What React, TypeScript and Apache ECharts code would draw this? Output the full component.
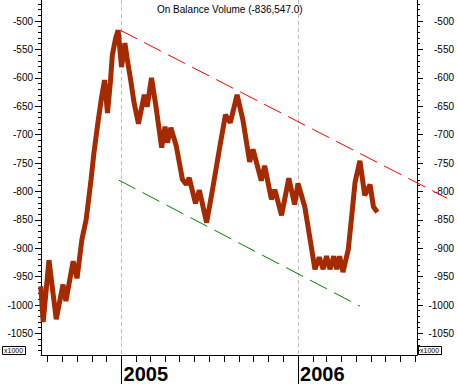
import React, { useEffect, useRef } from "react";
import * as echarts from "echarts";

const titleText = "On Balance Volume (-836,547.0)";

const dates = [
  "2004-07-18", "2004-07-23", "2004-08-04", "2004-08-19", "2004-09-02", "2004-09-08", "2004-09-23", "2004-10-01",
  "2004-10-11", "2004-10-20", "2004-10-30", "2004-11-05", "2004-11-14", "2004-11-21", "2004-11-27", "2004-12-03",
  "2004-12-09", "2004-12-13", "2004-12-20", "2004-12-25", "2005-01-01", "2005-01-08", "2005-01-13", "2005-01-20",
  "2005-01-27", "2005-02-05", "2005-02-17", "2005-02-23", "2005-03-04", "2005-03-13", "2005-03-25", "2005-04-01",
  "2005-04-06", "2005-04-13", "2005-04-24", "2005-05-07", "2005-05-15", "2005-05-21", "2005-06-03", "2005-06-11",
  "2005-06-26", "2005-07-09", "2005-07-23", "2005-08-04", "2005-08-14", "2005-08-28", "2005-09-09", "2005-09-23",
  "2005-09-30", "2005-10-17", "2005-10-24", "2005-11-07", "2005-11-14", "2005-11-28", "2005-12-13", "2005-12-25",
  "2006-01-01", "2006-01-15", "2006-01-25", "2006-02-05", "2006-02-14", "2006-02-22", "2006-03-01", "2006-03-08",
  "2006-03-16", "2006-03-22", "2006-03-28", "2006-04-04", "2006-04-15", "2006-04-22", "2006-04-29", "2006-05-09",
  "2006-05-19", "2006-05-30", "2006-06-06", "2006-06-14",
];

// On Balance Volume, x1000
const obv = [
  -967, -1030, -921, -1025, -964, -993, -923, -953, -885, -849,
  -779, -732, -674, -633, -604, -662, -607, -560, -530, -516,
  -581, -539, -568, -604, -644, -681, -630, -651, -600, -649,
  -723, -686, -714, -688, -719, -779, -788, -776, -821, -798,
  -855, -793, -723, -665, -679, -630, -674, -748, -726, -781,
  -755, -814, -797, -842, -777, -823, -786, -827, -879, -937,
  -916, -937, -914, -937, -914, -937, -914, -942, -902, -844,
  -784, -746, -807, -788, -827, -836.547,
];

const upperTrendDates = ["2004-12-29", "2006-11-05"];
const upperTrendValues = [-516, -812];
const lowerTrendDates = ["2004-12-26", "2006-05-09"];
const lowerTrendValues = [-780, -1002];

const xMinDate = "2004-07-18T12:00:00Z";
const xMaxDate = "2006-09-04T02:00:00Z";
const yearTickDates = ["2005-01-01", "2006-01-01"];
const yMin = -1088;
const yMax = -463;
const yLabelValues = [-1050, -1000, -950, -900, -850, -800, -750, -700, -650, -600, -550, -500];

const ts = (s: string) => Date.parse(s.length === 10 ? s + "T00:00:00Z" : s);

const FONT = "'Liberation Sans', Arial, sans-serif";

export default function App() {
  const ref = useRef<HTMLDivElement>(null);

  useEffect(() => {
    if (!ref.current) return;
    const chart = echarts.init(ref.current, undefined, { renderer: "svg" });

    const W = 457;
    const gridLeft = 41;
    const gridRight = 40;
    const xMin = ts(xMinDate);
    const xMax = ts(xMaxDate);
    // overlay grid that reaches the right edge of the canvas (trend line runs past the axis)
    const innerW = W - gridLeft - gridRight;
    const outerW = W - gridLeft;
    const xMaxOuter = xMin + ((xMax - xMin) * outerW) / innerW;

    const monthTicks: number[] = [];
    for (let y = 2004; y <= 2006; y++) {
      for (let m = 0; m < 12; m++) {
        const t = Date.UTC(y, m, 1);
        if (t > xMin && t <= xMax + 86400000 * 2) monthTicks.push(t);
      }
    }
    const yearTicks = yearTickDates.map(ts);
    const yMinor: number[] = [];
    for (let v = -1080; v <= -470; v += 10) yMinor.push(v);

    const yBase = { type: "value", min: yMin, max: yMax, splitLine: { show: false } };
    const black = { color: "#000", width: 1 };
    const fmt = (v: number) => String(v);

    const option: any = {
      animation: false,
      backgroundColor: "#ffffff",
      title: {
        text: titleText,
        left: 157,
        top: 4,
        padding: 0,
        textStyle: { fontSize: 10, fontWeight: "normal", color: "#000", fontFamily: FONT },
      },
      grid: [
        { left: gridLeft, right: gridRight, top: 0, bottom: 29, containLabel: false, outerBoundsMode: "none" },
        { left: gridLeft, right: 0, top: 0, bottom: 29, containLabel: false, outerBoundsMode: "none" },
      ],
      xAxis: [
        {
          type: "value",
          gridIndex: 0,
          min: xMin,
          max: xMax,
          position: "bottom",
          axisLine: { show: true, onZero: false, lineStyle: black },
          axisTick: { show: true, customValues: monthTicks, length: 7, lineStyle: black },
          axisLabel: { show: false },
          splitLine: { show: false },
        },
        {
          type: "value",
          gridIndex: 0,
          min: xMin,
          max: xMax,
          position: "bottom",
          axisLine: { show: false, onZero: false },
          axisTick: { show: true, customValues: yearTicks, length: 29, lineStyle: black },
          axisLabel: {
            show: true,
            customValues: yearTicks,
            formatter: (v: number) => String(new Date(v).getUTCFullYear()),
            align: "left",
            margin: 9,
            padding: [0, 0, 0, 2],
            fontSize: 20,
            fontWeight: "bold",
            color: "#000",
            fontFamily: FONT,
          },
          splitLine: { show: true, lineStyle: { color: "#bdbdbd", width: 1, type: [4, 3] } },
        },
        {
          type: "value",
          gridIndex: 1,
          min: xMin,
          max: xMaxOuter,
          show: false,
        },
      ],
      yAxis: [
        {
          ...yBase,
          gridIndex: 0,
          position: "left",
          axisLine: { show: true, lineStyle: black },
          axisTick: { show: true, customValues: yMinor, length: 3, lineStyle: black },
          axisLabel: { show: true, customValues: yLabelValues, formatter: fmt, margin: 8, fontSize: 10, color: "#000", fontFamily: FONT },
        },
        {
          ...yBase,
          gridIndex: 0,
          position: "left",
          axisLine: { show: false },
          axisTick: { show: true, customValues: yLabelValues, length: 6, lineStyle: black },
          axisLabel: { show: false },
        },
        {
          ...yBase,
          gridIndex: 0,
          position: "right",
          axisLine: { show: true, lineStyle: black },
          axisTick: { show: true, customValues: yMinor, length: 3, lineStyle: black },
          axisLabel: {
            show: true,
            customValues: yLabelValues,
            formatter: fmt,
            margin: 37,
            align: "right",
            fontSize: 10,
            color: "#000",
            fontFamily: FONT,
          },
        },
        {
          ...yBase,
          gridIndex: 0,
          position: "right",
          axisLine: { show: false },
          axisTick: { show: true, customValues: yLabelValues, length: 6, lineStyle: black },
          axisLabel: { show: false },
        },
        { ...yBase, gridIndex: 1, show: false },
      ],
      series: [
        {
          type: "line",
          xAxisIndex: 0,
          yAxisIndex: 0,
          data: dates.map((d, i) => [ts(d), obv[i]]),
          symbol: "none",
          lineStyle: { color: "#A52A00", width: 5 },
          itemStyle: { color: "#A52A00" },
          z: 3,
        },
        {
          type: "line",
          xAxisIndex: 2,
          yAxisIndex: 4,
          data: upperTrendDates.map((d, i) => [ts(d), upperTrendValues[i]]),
          symbol: "none",
          lineStyle: { color: "#FF0000", width: 1, type: [19, 8] },
          itemStyle: { color: "#FF0000" },
          z: 4,
        },
        {
          type: "line",
          xAxisIndex: 0,
          yAxisIndex: 0,
          data: lowerTrendDates.map((d, i) => [ts(d), lowerTrendValues[i]]),
          symbol: "none",
          lineStyle: { color: "#008000", width: 1, type: [19, 8] },
          itemStyle: { color: "#008000" },
          z: 4,
        },
      ],
      graphic: [
        { type: "rect", left: 2, top: 346, shape: { width: 23, height: 8 }, style: { fill: "#fff", stroke: "#000", lineWidth: 1 } },
        { type: "text", left: 4, top: 346.5, style: { text: "x1000", fontSize: 7, fill: "#000", fontFamily: FONT } },
        { type: "rect", left: 418, top: 346, shape: { width: 23, height: 8 }, style: { fill: "#fff", stroke: "#000", lineWidth: 1 } },
        { type: "text", left: 420, top: 346.5, style: { text: "x1000", fontSize: 7, fill: "#000", fontFamily: FONT } },
      ],
    };

    chart.setOption(option);
    return () => chart.dispose();
  }, []);

  return <div ref={ref} style={{ position: "absolute", left: 0, top: 0, width: 457, height: 384 }} />;
}
